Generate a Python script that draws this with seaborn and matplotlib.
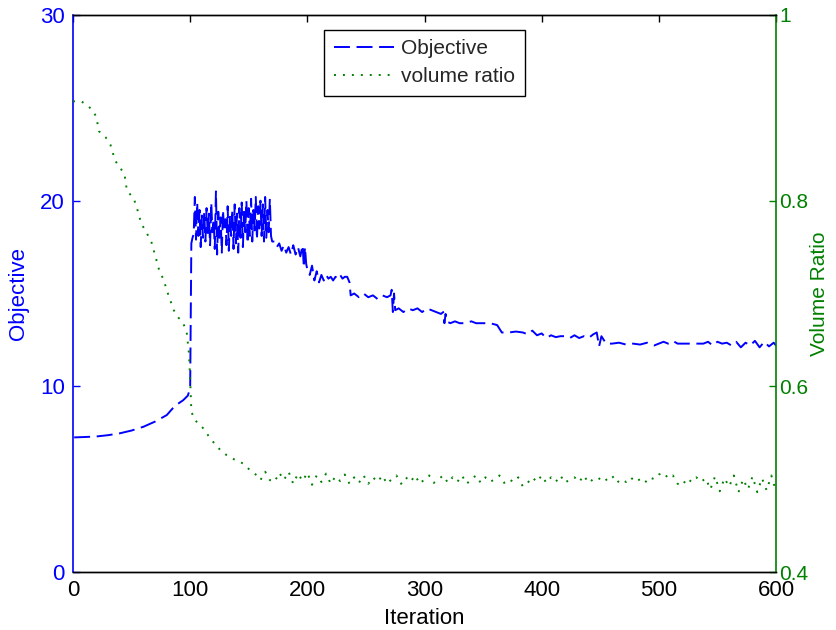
"""
Objective and volume ratio history over the optimisation iterations
(dual y-axis line chart, MATLAB plotyy look)
"""
import numpy as np
import pandas as pd
import matplotlib
matplotlib.use("Agg")
import matplotlib.pyplot as plt
import seaborn as sns

# ---- data ----
# objective (left axis): smooth rise, jump at ~100, noisy band, then stepwise decay
obj_iter = [1, 10, 20, 30, 40, 50, 60, 70, 80, 87, 94, 98, 100, 101, 102,
            103, 104, 105, 106, 107, 108, 109, 110, 111, 112, 113, 114, 115, 116,
            117, 118, 119, 120, 121, 122, 123, 124, 125, 126, 127, 128, 129, 130,
            131, 132, 133, 134, 135, 136, 137, 138, 139, 140, 141, 142, 143, 144,
            145, 146, 147, 148, 149, 150, 151, 152, 153, 154, 155, 156, 157, 158,
            159, 160, 161, 162, 163, 164, 165, 166, 167, 168, 169, 170,
            172, 174, 176, 178, 180, 182, 184, 186, 188, 190, 192, 194, 196, 197,
            198, 199, 200, 202, 204, 206, 208, 210, 212, 214, 216, 218, 220, 222,
            224, 226, 228, 230, 232, 234, 236, 237, 240, 244, 248, 252, 256, 260,
            264, 268, 271, 272, 273, 274, 275, 278, 282, 286, 290, 294, 298, 302,
            306, 310, 314, 316, 317, 318, 319, 322, 326, 330, 334, 340, 344, 350,
            356, 362, 366, 372, 378, 384, 388, 392, 396, 400, 404, 408, 412, 416,
            420, 424, 428, 432, 436, 440, 444, 447, 449, 451, 455, 460, 466, 472,
            478, 484, 490, 496, 500, 504, 508, 512, 516, 520, 526, 532, 538, 542,
            546, 550, 554, 558, 562, 566, 570, 574, 578, 582, 586, 590, 594, 598,
            600]
obj_val = [7.25, 7.27, 7.30, 7.37, 7.47, 7.62, 7.82, 8.10, 8.45, 8.95, 9.25, 9.50, 9.90, 17.7, 18.0,
           18.2, 20.2, 17.9, 19.9, 18.1, 19.5, 17.5, 19.2, 18.0, 19.4, 17.8, 19.6, 18.2, 19.3,
           17.6, 19.9, 18.3, 19.0, 17.4, 20.5, 17.1, 19.4, 18.0, 19.1, 17.2, 19.5, 18.4, 19.0,
           17.6, 19.7, 17.3, 19.2, 18.1, 19.5, 17.4, 19.8, 17.7, 19.3, 17.2, 19.6, 18.0, 19.9,
           17.5, 19.4, 18.3, 20.0, 17.7, 19.6, 18.1, 20.1, 17.8, 19.5, 18.4, 20.2, 17.9, 19.7,
           18.5, 20.0, 18.1, 19.8, 17.8, 20.2, 18.0, 19.5, 18.3, 20.1, 18.1, 17.8,
           17.8, 17.5, 17.7, 17.3, 17.6, 17.2, 17.5, 17.1, 17.6, 17.1, 17.5, 17.0, 17.6, 16.4,
           17.5, 16.6, 16.3, 16.0, 16.5, 15.7, 16.2, 15.6, 16.0, 15.7, 16.0, 15.8, 15.9, 15.7,
           15.9, 15.8, 16.0, 15.8, 15.9, 15.9, 15.6, 14.9, 15.0, 14.8, 15.0, 14.8, 14.9, 14.7,
           14.9, 14.8, 14.9, 15.2, 14.0, 15.0, 14.1, 14.2, 14.0, 14.2, 14.1, 14.2, 14.0, 14.2,
           14.1, 14.0, 13.9, 14.0, 13.4, 13.9, 13.5, 13.4, 13.5, 13.4, 13.4, 13.5, 13.4, 13.4,
           13.4, 13.3, 12.9, 12.9, 12.95, 12.9, 12.8, 13.0, 12.75, 12.85, 12.6, 12.75, 12.65, 12.7,
           12.7, 12.6, 12.75, 12.6, 12.7, 12.6, 12.8, 12.9, 12.15, 12.7, 12.3, 12.3, 12.35, 12.25,
           12.3, 12.25, 12.35, 12.2, 12.3, 12.4, 12.3, 12.45, 12.3, 12.3, 12.3, 12.3, 12.3, 12.4,
           12.2, 12.4, 12.3, 12.35, 12.2, 12.4, 12.1, 12.35, 12.2, 12.45, 12.1, 12.4, 12.15, 12.35,
           12.2]

# volume ratio (right axis): steep drop, then a noisy plateau near 0.5
vol_iter = [0, 7, 12, 17, 20, 22, 28, 32, 36, 40, 44, 46, 52, 56, 58, 63, 67, 71, 74, 77,
            81, 86, 90, 94, 97, 99, 100, 101, 103, 107, 111, 116, 121, 126, 131, 138, 145,
            150, 153, 157, 160,
            164, 168, 172, 176, 180, 184, 188, 192, 196, 200, 204, 208, 212, 216, 220, 224,
            228, 232, 236, 240, 244, 248, 252, 256, 260, 264, 268, 272, 276, 280, 284, 288,
            292, 296, 300, 304, 308, 312, 316, 320, 324, 328, 332, 336, 340, 344, 348, 352,
            356, 360, 364, 368, 372, 376, 380, 384, 388, 392, 396, 400, 404, 408, 412, 416,
            420, 424, 428, 432, 436, 440, 444, 448, 452, 456, 460, 464, 468, 472, 476, 480,
            484, 488, 492, 496, 500, 504, 508, 512, 516, 520, 524, 528, 532, 536, 540, 544,
            548, 552, 556, 560, 564, 568, 572, 576, 580, 584, 588, 592, 596, 600]
vol_val = [0.907, 0.907, 0.903, 0.897, 0.890, 0.875, 0.868, 0.860, 0.843, 0.836, 0.828, 0.811,
           0.802, 0.786, 0.776, 0.765, 0.755, 0.737, 0.723, 0.716, 0.700, 0.682, 0.674, 0.668,
           0.659, 0.635, 0.607, 0.574, 0.565, 0.560, 0.555, 0.546, 0.538, 0.531, 0.526, 0.521,
           0.517, 0.511, 0.508, 0.504, 0.499,
           0.508, 0.499, 0.497, 0.507, 0.499, 0.508, 0.495, 0.506, 0.498, 0.507, 0.494, 0.504,
           0.497, 0.506, 0.495, 0.503, 0.498, 0.505, 0.495, 0.502, 0.496, 0.504, 0.495, 0.502,
           0.497, 0.504, 0.495, 0.500, 0.504, 0.495, 0.502, 0.497, 0.504, 0.495, 0.500, 0.504,
           0.496, 0.500, 0.504, 0.496, 0.502, 0.497, 0.504, 0.495, 0.500, 0.504, 0.496, 0.502,
           0.497, 0.500, 0.504, 0.496, 0.500, 0.497, 0.502, 0.492, 0.496, 0.502, 0.497, 0.504,
           0.496, 0.502, 0.497, 0.504, 0.496, 0.500, 0.502, 0.497, 0.504, 0.496, 0.500, 0.502,
           0.497, 0.500, 0.504, 0.496, 0.500, 0.497, 0.502, 0.497, 0.500, 0.496, 0.502, 0.500,
           0.505, 0.507, 0.501, 0.504, 0.495, 0.493, 0.501, 0.497, 0.502, 0.497, 0.501, 0.489,
           0.503, 0.487, 0.501, 0.492, 0.504, 0.486, 0.500, 0.489, 0.503, 0.486, 0.501, 0.488,
           0.504, 0.487]

x_ticks = [0, 100, 200, 300, 400, 500, 600]
obj_ticks = [0, 10, 20, 30]
vol_ticks = [0.4, 0.6, 0.8, 1.0]
vol_tick_labels = ['0.4', '0.6', '0.8', '1']

BLUE = (0, 0, 1)
GREEN = (0, 0.5, 0)

sns.set_theme(style="white")
plt.rcParams['font.family'] = ['Liberation Sans', 'DejaVu Sans']
plt.rcParams['font.size'] = 16

df_obj = pd.DataFrame({'Iteration': obj_iter, 'Objective': obj_val})
df_vol = pd.DataFrame({'Iteration': vol_iter, 'Volume Ratio': vol_val})

fig = plt.figure(figsize=(8.36, 6.3), dpi=100)
ax1 = fig.add_axes([73 / 836, 58 / 630, 703 / 836, 557 / 630])
ax2 = ax1.twinx()

# Objective - dashed blue on the left axis
sns.lineplot(data=df_obj, x='Iteration', y='Objective', ax=ax1, color=BLUE,
             linewidth=1.4, linestyle=(0, (8.2, 3.4)), estimator=None,
             errorbar=None, label='Objective')
# volume ratio - dotted green on the right axis
sns.lineplot(data=df_vol, x='Iteration', y='Volume Ratio', ax=ax2, color=GREEN,
             linewidth=1.4, linestyle=(0, (1, 3.6)), estimator=None,
             errorbar=None, label='volume ratio')

for ax in (ax1, ax2):
    if ax.get_legend() is not None:
        ax.get_legend().remove()

# axes limits / ticks
ax1.set_xlim(0, 600)
ax1.set_ylim(0, 30)
ax2.set_ylim(0.4, 1.0)
ax1.set_xticks(x_ticks)
ax1.set_yticks(obj_ticks)
ax2.set_yticks(vol_ticks)
ax2.set_yticklabels(vol_tick_labels)

ax1.tick_params(axis='x', direction='in', length=5, width=1, top=True,
                colors='black', labelsize=16, pad=6)
ax1.tick_params(axis='y', direction='in', length=5, width=1, colors=BLUE,
                labelsize=16, pad=6)
ax2.tick_params(axis='y', direction='in', length=5, width=1, colors=GREEN,
                labelsize=15, pad=2.5)

# spines: blue left, green right, black top/bottom
for ax in (ax1, ax2):
    for side in ['top', 'bottom']:
        ax.spines[side].set_color('black')
        ax.spines[side].set_linewidth(1.0)
ax1.spines['left'].set_color(BLUE)
ax1.spines['left'].set_linewidth(1.2)
ax1.spines['right'].set_visible(False)
ax2.spines['left'].set_visible(False)
ax2.spines['right'].set_color(GREEN)
ax2.spines['right'].set_linewidth(1.2)

ax1.set_xlabel('Iteration', fontsize=16, color='black', labelpad=5)
ax1.set_ylabel('Objective', fontsize=16, color=BLUE, labelpad=8)
ax2.set_ylabel('Volume Ratio', fontsize=15, color=GREEN, labelpad=1)

# combined legend, boxed at upper centre
h1, l1 = ax1.get_legend_handles_labels()
h2, l2 = ax2.get_legend_handles_labels()
leg = ax2.legend(h1 + h2, l1 + l2, loc='upper center', fontsize=15,
                 frameon=True, fancybox=False, framealpha=1, edgecolor='black',
                 handlelength=2.9, handletextpad=0.35, borderpad=0.45,
                 labelspacing=0.45, borderaxespad=0.7)
leg.get_frame().set_linewidth(1.0)

fig.savefig('out.png', dpi=100)
plt.close()
